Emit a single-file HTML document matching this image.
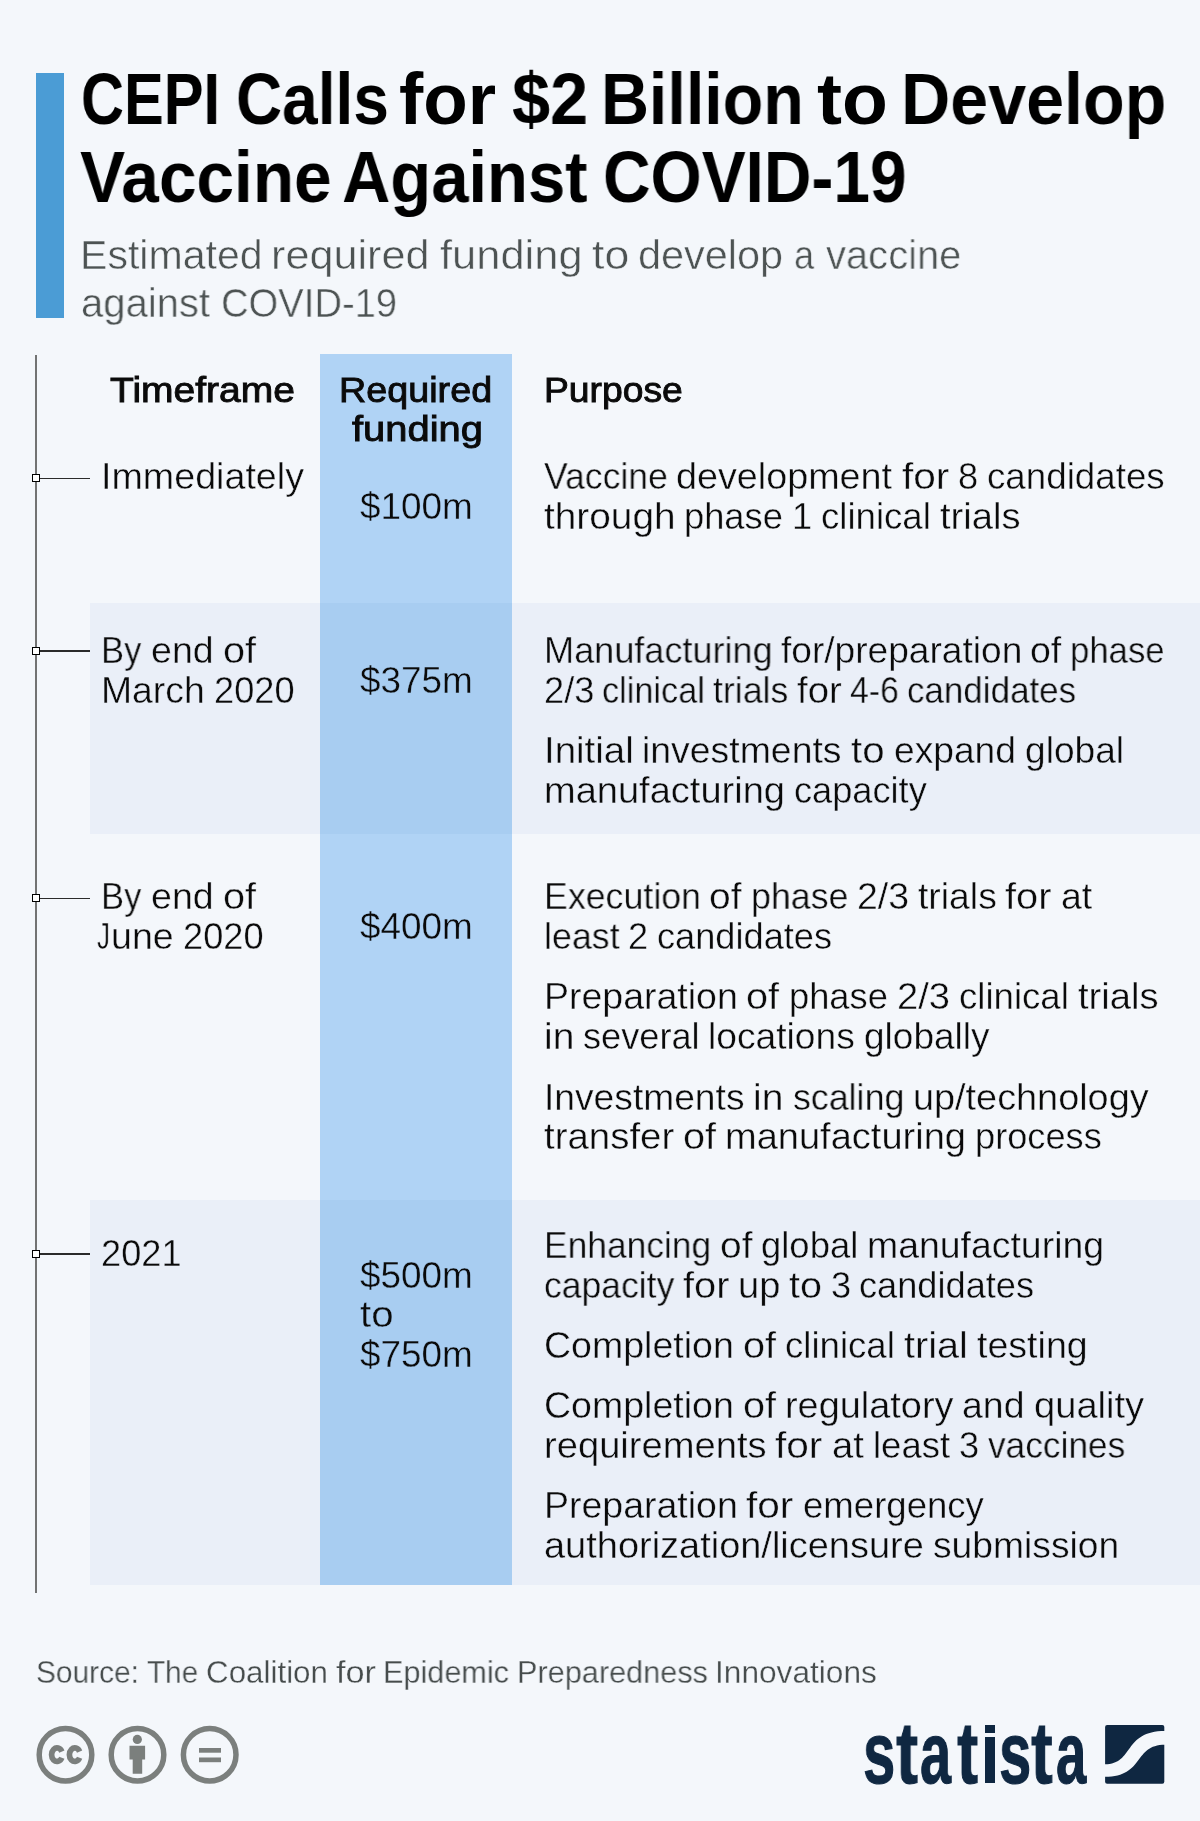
<!DOCTYPE html>
<html lang="en">
<head>
<meta charset="utf-8">
<title>CEPI Calls for $2 Billion to Develop Vaccine Against COVID-19</title>
<style>
html,body{margin:0;padding:0;}
body{width:1200px;height:1821px;background:#f4f7fb;position:relative;overflow:hidden;font-family:"Liberation Sans",sans-serif;}
.abs{position:absolute;}
.t{will-change:transform;position:absolute;white-space:nowrap;transform-origin:0 0;font-family:"Liberation Sans",sans-serif;font-weight:400;}
.t.b{font-weight:700;}
.t.lb{-webkit-text-stroke:1px currentColor;}
.t.sb{-webkit-text-stroke:0.9px currentColor;}
.band{position:absolute;left:90px;width:1110px;background:#eaeff8;}
.col{position:absolute;left:320px;width:191.5px;top:354px;height:1230.7px;background:#b0d3f5;}
.colb{position:absolute;left:320px;width:191.5px;background:#a8cdf1;}
.vline{position:absolute;left:35.1px;top:354.5px;width:2px;height:1238px;background:#727373;}
.hline{position:absolute;left:38px;width:52px;height:1.3px;background:#2b2b2b;}
.mk{position:absolute;left:32px;width:6px;height:6px;border:1px solid #000;background:#fff;}
.bar{position:absolute;left:36px;top:73px;width:28px;height:245px;background:#4b9cd5;}
</style>
</head>
<body>
<div class="bar"></div>
<div class="band" style="top:602.5px;height:231.3px"></div>
<div class="band" style="top:1199.8px;height:384.9px"></div>
<div class="col"></div>
<div class="colb" style="top:602.5px;height:231.3px"></div>
<div class="colb" style="top:1199.8px;height:384.9px"></div>
<div class="vline"></div>
<div class="hline" style="top:477.6px"></div><div class="mk" style="top:474.3px"></div>
<div class="hline" style="top:650.3px"></div><div class="mk" style="top:647.0px"></div>
<div class="hline" style="top:897.7px"></div><div class="mk" style="top:894.4px"></div>
<div class="hline" style="top:1253.3px"></div><div class="mk" style="top:1250.0px"></div>
<div class="t b" style="left:81.28px;top:55.03px;font-size:72.5px;line-height:87.0px;color:#000;transform:scaleX(0.8217)">CEPI</div>
<div class="t b" style="left:236.10px;top:55.03px;font-size:72.5px;line-height:87.0px;color:#000;transform:scaleX(0.8819)">Calls</div>
<div class="t b" style="left:399.49px;top:55.03px;font-size:72.5px;line-height:87.0px;color:#000;transform:scaleX(1.0053)">for</div>
<div class="t b" style="left:511.56px;top:55.03px;font-size:72.5px;line-height:87.0px;color:#000;transform:scaleX(0.9446)">$2</div>
<div class="t b" style="left:600.65px;top:55.03px;font-size:72.5px;line-height:87.0px;color:#000;transform:scaleX(0.9152)">Billion</div>
<div class="t b" style="left:817.22px;top:55.03px;font-size:72.5px;line-height:87.0px;color:#000;transform:scaleX(1.0349)">to</div>
<div class="t b" style="left:901.28px;top:55.03px;font-size:72.5px;line-height:87.0px;color:#000;transform:scaleX(0.9407)">Develop</div>
<div class="t b" style="left:79.53px;top:133.03px;font-size:72.5px;line-height:87.0px;color:#000;transform:scaleX(0.9316)">Vaccine</div>
<div class="t b" style="left:342.38px;top:133.03px;font-size:72.5px;line-height:87.0px;color:#000;transform:scaleX(0.9231)">Against</div>
<div class="t b" style="left:602.78px;top:133.03px;font-size:72.5px;line-height:87.0px;color:#000;transform:scaleX(0.9080)">COVID-19</div>
<div class="t" style="left:80.01px;top:231.02px;font-size:40.6px;line-height:48.72px;color:#4d5353;transform:scaleX(1.0126);-webkit-text-stroke:0.49px #f4f7fb">Estimated</div>
<div class="t" style="left:271.37px;top:231.02px;font-size:40.6px;line-height:48.72px;color:#4d5353;transform:scaleX(1.0641);-webkit-text-stroke:0.49px #f4f7fb">required</div>
<div class="t" style="left:440.16px;top:231.02px;font-size:40.6px;line-height:48.72px;color:#4d5353;transform:scaleX(1.0715);-webkit-text-stroke:0.49px #f4f7fb">funding</div>
<div class="t" style="left:592.15px;top:231.02px;font-size:40.6px;line-height:48.72px;color:#4d5353;transform:scaleX(1.0984);-webkit-text-stroke:0.49px #f4f7fb">to</div>
<div class="t" style="left:638.21px;top:231.02px;font-size:40.6px;line-height:48.72px;color:#4d5353;transform:scaleX(1.0213);-webkit-text-stroke:0.49px #f4f7fb">develop</div>
<div class="t" style="left:794.44px;top:231.02px;font-size:40.6px;line-height:48.72px;color:#4d5353;transform:scaleX(0.8916);-webkit-text-stroke:0.49px #f4f7fb">a</div>
<div class="t" style="left:825.75px;top:231.02px;font-size:40.6px;line-height:48.72px;color:#4d5353;transform:scaleX(0.9838);-webkit-text-stroke:0.49px #f4f7fb">vaccine</div>
<div class="t" style="left:80.57px;top:279.02px;font-size:40.6px;line-height:48.72px;color:#4d5353;transform:scaleX(0.9864);-webkit-text-stroke:0.49px #f4f7fb">against</div>
<div class="t" style="left:220.82px;top:279.02px;font-size:40.6px;line-height:48.72px;color:#4d5353;transform:scaleX(0.9413);-webkit-text-stroke:0.49px #f4f7fb">COVID-19</div>
<div class="t sb" style="left:110.22px;top:370.00px;font-size:34.6px;line-height:41.52px;color:#0a0a0a;transform:scaleX(1.1280)">Timeframe</div>
<div class="t sb" style="left:339.27px;top:370.00px;font-size:34.6px;line-height:41.52px;color:#0a0a0a;transform:scaleX(1.0912)">Required</div>
<div class="t sb" style="left:351.50px;top:409.00px;font-size:34.6px;line-height:41.52px;color:#0a0a0a;transform:scaleX(1.1535)">funding</div>
<div class="t sb" style="left:543.91px;top:370.00px;font-size:34.6px;line-height:41.52px;color:#0a0a0a;transform:scaleX(1.0778)">Purpose</div>
<div class="t" style="left:96.84px;top:915.04px;font-size:36.2px;line-height:43.44px;color:#0a0a0a;transform:scaleX(0.7133);-webkit-text-stroke:0.39px #f4f7fb">J</div>
<div class="t b lb" style="left:863.43px;top:1701.00px;font-size:87px;line-height:104.4px;color:#0f2741;transform:scaleX(0.6690)">s</div>
<div class="t b lb" style="left:895.92px;top:1701.00px;font-size:87px;line-height:104.4px;color:#0f2741;transform:scaleX(0.7643)">t</div>
<div class="t b lb" style="left:920.41px;top:1701.00px;font-size:87px;line-height:104.4px;color:#0f2741;transform:scaleX(0.6442)">a</div>
<div class="t b lb" style="left:957.33px;top:1701.00px;font-size:87px;line-height:104.4px;color:#0f2741;transform:scaleX(0.7321)">t</div>
<div class="t b lb" style="left:998.63px;top:1701.00px;font-size:87px;line-height:104.4px;color:#0f2741;transform:scaleX(0.6690)">s</div>
<div class="t b lb" style="left:1031.13px;top:1701.00px;font-size:87px;line-height:104.4px;color:#0f2741;transform:scaleX(0.7429)">t</div>
<div class="t b lb" style="left:1056.45px;top:1701.00px;font-size:87px;line-height:104.4px;color:#0f2741;transform:scaleX(0.6274)">a</div>
<div class="t" style="left:101.40px;top:455.04px;font-size:36.2px;line-height:43.44px;color:#0a0a0a;transform:scaleX(1.0405);-webkit-text-stroke:0.39px #f4f7fb">Immediately</div>
<div class="t" style="left:101.40px;top:629.04px;font-size:36.2px;line-height:43.44px;color:#0a0a0a;transform:scaleX(0.9543);-webkit-text-stroke:0.39px #eaeff8">By</div>
<div class="t" style="left:150.81px;top:629.04px;font-size:36.2px;line-height:43.44px;color:#0a0a0a;transform:scaleX(1.0375);-webkit-text-stroke:0.39px #eaeff8">end</div>
<div class="t" style="left:222.57px;top:629.04px;font-size:36.2px;line-height:43.44px;color:#0a0a0a;transform:scaleX(1.0947);-webkit-text-stroke:0.39px #eaeff8">of</div>
<div class="t" style="left:101.40px;top:669.04px;font-size:36.2px;line-height:43.44px;color:#0a0a0a;transform:scaleX(1.0308);-webkit-text-stroke:0.39px #eaeff8">March</div>
<div class="t" style="left:214.15px;top:669.04px;font-size:36.2px;line-height:43.44px;color:#0a0a0a;transform:scaleX(0.9956);-webkit-text-stroke:0.39px #eaeff8">2020</div>
<div class="t" style="left:101.40px;top:875.04px;font-size:36.2px;line-height:43.44px;color:#0a0a0a;transform:scaleX(0.9543);-webkit-text-stroke:0.39px #f4f7fb">By</div>
<div class="t" style="left:150.81px;top:875.04px;font-size:36.2px;line-height:43.44px;color:#0a0a0a;transform:scaleX(1.0375);-webkit-text-stroke:0.39px #f4f7fb">end</div>
<div class="t" style="left:222.57px;top:875.04px;font-size:36.2px;line-height:43.44px;color:#0a0a0a;transform:scaleX(1.0947);-webkit-text-stroke:0.39px #f4f7fb">of</div>
<div class="t" style="left:110.76px;top:915.04px;font-size:36.2px;line-height:43.44px;color:#0a0a0a;transform:scaleX(1.0381);-webkit-text-stroke:0.39px #f4f7fb">une</div>
<div class="t" style="left:182.56px;top:915.04px;font-size:36.2px;line-height:43.44px;color:#0a0a0a;transform:scaleX(0.9956);-webkit-text-stroke:0.39px #f4f7fb">2020</div>
<div class="t" style="left:101.40px;top:1232.04px;font-size:36.2px;line-height:43.44px;color:#0a0a0a;transform:scaleX(0.9956);-webkit-text-stroke:0.39px #eaeff8">2021</div>
<div class="t" style="left:360.00px;top:485.04px;font-size:36.2px;line-height:43.44px;color:#0a0a0a;transform:scaleX(1.0191);-webkit-text-stroke:0.39px #b0d3f5">$100m</div>
<div class="t" style="left:360.00px;top:659.04px;font-size:36.2px;line-height:43.44px;color:#0a0a0a;transform:scaleX(1.0191);-webkit-text-stroke:0.39px #a8cdf1">$375m</div>
<div class="t" style="left:360.00px;top:905.04px;font-size:36.2px;line-height:43.44px;color:#0a0a0a;transform:scaleX(1.0191);-webkit-text-stroke:0.39px #b0d3f5">$400m</div>
<div class="t" style="left:360.00px;top:1254.04px;font-size:36.2px;line-height:43.44px;color:#0a0a0a;transform:scaleX(1.0191);-webkit-text-stroke:0.39px #a8cdf1">$500m</div>
<div class="t" style="left:360.00px;top:1293.04px;font-size:36.2px;line-height:43.44px;color:#0a0a0a;transform:scaleX(1.1112);-webkit-text-stroke:0.39px #a8cdf1">to</div>
<div class="t" style="left:360.00px;top:1333.04px;font-size:36.2px;line-height:43.44px;color:#0a0a0a;transform:scaleX(1.0191);-webkit-text-stroke:0.39px #a8cdf1">$750m</div>
<div class="t" style="left:543.60px;top:455.04px;font-size:36.2px;line-height:43.44px;color:#0a0a0a;transform:scaleX(0.9818);-webkit-text-stroke:0.39px #f4f7fb">Vaccine</div>
<div class="t" style="left:676.48px;top:455.04px;font-size:36.2px;line-height:43.44px;color:#0a0a0a;transform:scaleX(1.0425);-webkit-text-stroke:0.39px #f4f7fb">development</div>
<div class="t" style="left:901.61px;top:455.04px;font-size:36.2px;line-height:43.44px;color:#0a0a0a;transform:scaleX(1.1212);-webkit-text-stroke:0.39px #f4f7fb">for</div>
<div class="t" style="left:958.07px;top:455.04px;font-size:36.2px;line-height:43.44px;color:#0a0a0a;transform:scaleX(0.9950);-webkit-text-stroke:0.39px #f4f7fb">8</div>
<div class="t" style="left:987.22px;top:455.04px;font-size:36.2px;line-height:43.44px;color:#0a0a0a;transform:scaleX(1.0155);-webkit-text-stroke:0.39px #f4f7fb">candidates</div>
<div class="t" style="left:543.60px;top:495.04px;font-size:36.2px;line-height:43.44px;color:#0a0a0a;transform:scaleX(1.0722);-webkit-text-stroke:0.39px #f4f7fb">through</div>
<div class="t" style="left:684.30px;top:495.04px;font-size:36.2px;line-height:43.44px;color:#0a0a0a;transform:scaleX(1.0026);-webkit-text-stroke:0.39px #f4f7fb">phase</div>
<div class="t" style="left:792.27px;top:495.04px;font-size:36.2px;line-height:43.44px;color:#0a0a0a;transform:scaleX(0.9950);-webkit-text-stroke:0.39px #f4f7fb">1</div>
<div class="t" style="left:821.42px;top:495.04px;font-size:36.2px;line-height:43.44px;color:#0a0a0a;transform:scaleX(1.0113);-webkit-text-stroke:0.39px #f4f7fb">clinical</div>
<div class="t" style="left:940.36px;top:495.04px;font-size:36.2px;line-height:43.44px;color:#0a0a0a;transform:scaleX(1.0552);-webkit-text-stroke:0.39px #f4f7fb">trials</div>
<div class="t" style="left:543.60px;top:629.04px;font-size:36.2px;line-height:43.44px;color:#0a0a0a;transform:scaleX(0.9972);-webkit-text-stroke:0.39px #eaeff8">Manufacturing</div>
<div class="t" style="left:780.52px;top:629.04px;font-size:36.2px;line-height:43.44px;color:#0a0a0a;transform:scaleX(1.0253);-webkit-text-stroke:0.39px #eaeff8">for/preparation</div>
<div class="t" style="left:1030.07px;top:629.04px;font-size:36.2px;line-height:43.44px;color:#0a0a0a;transform:scaleX(1.0371);-webkit-text-stroke:0.39px #eaeff8">of</div>
<div class="t" style="left:1069.61px;top:629.04px;font-size:36.2px;line-height:43.44px;color:#0a0a0a;transform:scaleX(0.9585);-webkit-text-stroke:0.39px #eaeff8">phase</div>
<div class="t" style="left:543.60px;top:669.04px;font-size:36.2px;line-height:43.44px;color:#0a0a0a;transform:scaleX(1.0006);-webkit-text-stroke:0.39px #eaeff8">2/3</div>
<div class="t" style="left:602.18px;top:669.04px;font-size:36.2px;line-height:43.44px;color:#0a0a0a;transform:scaleX(0.9472);-webkit-text-stroke:0.39px #eaeff8">clinical</div>
<div class="t" style="left:713.29px;top:669.04px;font-size:36.2px;line-height:43.44px;color:#0a0a0a;transform:scaleX(0.9869);-webkit-text-stroke:0.39px #eaeff8">trials</div>
<div class="t" style="left:796.93px;top:669.04px;font-size:36.2px;line-height:43.44px;color:#0a0a0a;transform:scaleX(1.0594);-webkit-text-stroke:0.39px #eaeff8">for</div>
<div class="t" style="left:849.91px;top:669.04px;font-size:36.2px;line-height:43.44px;color:#0a0a0a;transform:scaleX(0.9319);-webkit-text-stroke:0.39px #eaeff8">4-6</div>
<div class="t" style="left:906.90px;top:669.04px;font-size:36.2px;line-height:43.44px;color:#0a0a0a;transform:scaleX(0.9658);-webkit-text-stroke:0.39px #eaeff8">candidates</div>
<div class="t" style="left:543.60px;top:729.04px;font-size:36.2px;line-height:43.44px;color:#0a0a0a;transform:scaleX(1.0623);-webkit-text-stroke:0.39px #eaeff8">Initial</div>
<div class="t" style="left:642.45px;top:729.04px;font-size:36.2px;line-height:43.44px;color:#0a0a0a;transform:scaleX(1.0336);-webkit-text-stroke:0.39px #eaeff8">investments</div>
<div class="t" style="left:851.13px;top:729.04px;font-size:36.2px;line-height:43.44px;color:#0a0a0a;transform:scaleX(1.1112);-webkit-text-stroke:0.39px #eaeff8">to</div>
<div class="t" style="left:893.77px;top:729.04px;font-size:36.2px;line-height:43.44px;color:#0a0a0a;transform:scaleX(1.0274);-webkit-text-stroke:0.39px #eaeff8">expand</div>
<div class="t" style="left:1024.87px;top:729.04px;font-size:36.2px;line-height:43.44px;color:#0a0a0a;transform:scaleX(1.0257);-webkit-text-stroke:0.39px #eaeff8">global</div>
<div class="t" style="left:543.60px;top:769.04px;font-size:36.2px;line-height:43.44px;color:#0a0a0a;transform:scaleX(1.0507);-webkit-text-stroke:0.39px #eaeff8">manufacturing</div>
<div class="t" style="left:793.66px;top:769.04px;font-size:36.2px;line-height:43.44px;color:#0a0a0a;transform:scaleX(0.9993);-webkit-text-stroke:0.39px #eaeff8">capacity</div>
<div class="t" style="left:543.60px;top:875.04px;font-size:36.2px;line-height:43.44px;color:#0a0a0a;transform:scaleX(0.9875);-webkit-text-stroke:0.39px #f4f7fb">Execution</div>
<div class="t" style="left:709.35px;top:875.04px;font-size:36.2px;line-height:43.44px;color:#0a0a0a;transform:scaleX(1.0749);-webkit-text-stroke:0.39px #f4f7fb">of</div>
<div class="t" style="left:750.60px;top:875.04px;font-size:36.2px;line-height:43.44px;color:#0a0a0a;transform:scaleX(0.9874);-webkit-text-stroke:0.39px #f4f7fb">phase</div>
<div class="t" style="left:856.77px;top:875.04px;font-size:36.2px;line-height:43.44px;color:#0a0a0a;transform:scaleX(1.0346);-webkit-text-stroke:0.39px #f4f7fb">2/3</div>
<div class="t" style="left:917.63px;top:875.04px;font-size:36.2px;line-height:43.44px;color:#0a0a0a;transform:scaleX(1.0317);-webkit-text-stroke:0.39px #f4f7fb">trials</div>
<div class="t" style="left:1005.26px;top:875.04px;font-size:36.2px;line-height:43.44px;color:#0a0a0a;transform:scaleX(1.0999);-webkit-text-stroke:0.39px #f4f7fb">for</div>
<div class="t" style="left:1060.52px;top:875.04px;font-size:36.2px;line-height:43.44px;color:#0a0a0a;transform:scaleX(1.0358);-webkit-text-stroke:0.39px #f4f7fb">at</div>
<div class="t" style="left:543.60px;top:915.04px;font-size:36.2px;line-height:43.44px;color:#0a0a0a;transform:scaleX(0.9891);-webkit-text-stroke:0.39px #f4f7fb">least</div>
<div class="t" style="left:628.02px;top:915.04px;font-size:36.2px;line-height:43.44px;color:#0a0a0a;transform:scaleX(0.9801);-webkit-text-stroke:0.39px #f4f7fb">2</div>
<div class="t" style="left:656.57px;top:915.04px;font-size:36.2px;line-height:43.44px;color:#0a0a0a;transform:scaleX(0.9984);-webkit-text-stroke:0.39px #f4f7fb">candidates</div>
<div class="t" style="left:543.60px;top:975.04px;font-size:36.2px;line-height:43.44px;color:#0a0a0a;transform:scaleX(1.0357);-webkit-text-stroke:0.39px #f4f7fb">Preparation</div>
<div class="t" style="left:746.47px;top:975.04px;font-size:36.2px;line-height:43.44px;color:#0a0a0a;transform:scaleX(1.0947);-webkit-text-stroke:0.39px #f4f7fb">of</div>
<div class="t" style="left:788.62px;top:975.04px;font-size:36.2px;line-height:43.44px;color:#0a0a0a;transform:scaleX(1.0026);-webkit-text-stroke:0.39px #f4f7fb">phase</div>
<div class="t" style="left:896.60px;top:975.04px;font-size:36.2px;line-height:43.44px;color:#0a0a0a;transform:scaleX(1.0525);-webkit-text-stroke:0.39px #f4f7fb">2/3</div>
<div class="t" style="left:958.65px;top:975.04px;font-size:36.2px;line-height:43.44px;color:#0a0a0a;transform:scaleX(1.0113);-webkit-text-stroke:0.39px #f4f7fb">clinical</div>
<div class="t" style="left:1077.60px;top:975.04px;font-size:36.2px;line-height:43.44px;color:#0a0a0a;transform:scaleX(1.0552);-webkit-text-stroke:0.39px #f4f7fb">trials</div>
<div class="t" style="left:543.60px;top:1015.04px;font-size:36.2px;line-height:43.44px;color:#0a0a0a;transform:scaleX(1.0783);-webkit-text-stroke:0.39px #f4f7fb">in</div>
<div class="t" style="left:583.08px;top:1015.04px;font-size:36.2px;line-height:43.44px;color:#0a0a0a;transform:scaleX(0.9967);-webkit-text-stroke:0.39px #f4f7fb">several</div>
<div class="t" style="left:708.46px;top:1015.04px;font-size:36.2px;line-height:43.44px;color:#0a0a0a;transform:scaleX(1.0282);-webkit-text-stroke:0.39px #f4f7fb">locations</div>
<div class="t" style="left:864.42px;top:1015.04px;font-size:36.2px;line-height:43.44px;color:#0a0a0a;transform:scaleX(1.0229);-webkit-text-stroke:0.39px #f4f7fb">globally</div>
<div class="t" style="left:543.60px;top:1076.04px;font-size:36.2px;line-height:43.44px;color:#0a0a0a;transform:scaleX(1.0276);-webkit-text-stroke:0.39px #f4f7fb">Investments</div>
<div class="t" style="left:753.18px;top:1076.04px;font-size:36.2px;line-height:43.44px;color:#0a0a0a;transform:scaleX(1.0783);-webkit-text-stroke:0.39px #f4f7fb">in</div>
<div class="t" style="left:792.66px;top:1076.04px;font-size:36.2px;line-height:43.44px;color:#0a0a0a;transform:scaleX(0.9884);-webkit-text-stroke:0.39px #f4f7fb">scaling</div>
<div class="t" style="left:913.11px;top:1076.04px;font-size:36.2px;line-height:43.44px;color:#0a0a0a;transform:scaleX(1.0456);-webkit-text-stroke:0.39px #f4f7fb">up/technology</div>
<div class="t" style="left:543.60px;top:1115.04px;font-size:36.2px;line-height:43.44px;color:#0a0a0a;transform:scaleX(1.0617);-webkit-text-stroke:0.39px #f4f7fb">transfer</div>
<div class="t" style="left:682.96px;top:1115.04px;font-size:36.2px;line-height:43.44px;color:#0a0a0a;transform:scaleX(1.0947);-webkit-text-stroke:0.39px #f4f7fb">of</div>
<div class="t" style="left:725.11px;top:1115.04px;font-size:36.2px;line-height:43.44px;color:#0a0a0a;transform:scaleX(1.0507);-webkit-text-stroke:0.39px #f4f7fb">manufacturing</div>
<div class="t" style="left:975.17px;top:1115.04px;font-size:36.2px;line-height:43.44px;color:#0a0a0a;transform:scaleX(1.0002);-webkit-text-stroke:0.39px #f4f7fb">process</div>
<div class="t" style="left:543.60px;top:1224.04px;font-size:36.2px;line-height:43.44px;color:#0a0a0a;transform:scaleX(0.9770);-webkit-text-stroke:0.39px #eaeff8">Enhancing</div>
<div class="t" style="left:719.50px;top:1224.04px;font-size:36.2px;line-height:43.44px;color:#0a0a0a;transform:scaleX(1.0749);-webkit-text-stroke:0.39px #eaeff8">of</div>
<div class="t" style="left:760.75px;top:1224.04px;font-size:36.2px;line-height:43.44px;color:#0a0a0a;transform:scaleX(1.0070);-webkit-text-stroke:0.39px #eaeff8">global</div>
<div class="t" style="left:866.83px;top:1224.04px;font-size:36.2px;line-height:43.44px;color:#0a0a0a;transform:scaleX(1.0337);-webkit-text-stroke:0.39px #eaeff8">manufacturing</div>
<div class="t" style="left:543.60px;top:1264.04px;font-size:36.2px;line-height:43.44px;color:#0a0a0a;transform:scaleX(0.9812);-webkit-text-stroke:0.39px #eaeff8">capacity</div>
<div class="t" style="left:682.67px;top:1264.04px;font-size:36.2px;line-height:43.44px;color:#0a0a0a;transform:scaleX(1.0999);-webkit-text-stroke:0.39px #eaeff8">for</div>
<div class="t" style="left:737.93px;top:1264.04px;font-size:36.2px;line-height:43.44px;color:#0a0a0a;transform:scaleX(1.0528);-webkit-text-stroke:0.39px #eaeff8">up</div>
<div class="t" style="left:789.13px;top:1264.04px;font-size:36.2px;line-height:43.44px;color:#0a0a0a;transform:scaleX(1.0913);-webkit-text-stroke:0.39px #eaeff8">to</div>
<div class="t" style="left:830.88px;top:1264.04px;font-size:36.2px;line-height:43.44px;color:#0a0a0a;transform:scaleX(0.9801);-webkit-text-stroke:0.39px #eaeff8">3</div>
<div class="t" style="left:859.42px;top:1264.04px;font-size:36.2px;line-height:43.44px;color:#0a0a0a;transform:scaleX(0.9984);-webkit-text-stroke:0.39px #eaeff8">candidates</div>
<div class="t" style="left:543.60px;top:1324.04px;font-size:36.2px;line-height:43.44px;color:#0a0a0a;transform:scaleX(1.0370);-webkit-text-stroke:0.39px #eaeff8">Completion</div>
<div class="t" style="left:742.52px;top:1324.04px;font-size:36.2px;line-height:43.44px;color:#0a0a0a;transform:scaleX(1.0947);-webkit-text-stroke:0.39px #eaeff8">of</div>
<div class="t" style="left:784.67px;top:1324.04px;font-size:36.2px;line-height:43.44px;color:#0a0a0a;transform:scaleX(1.0113);-webkit-text-stroke:0.39px #eaeff8">clinical</div>
<div class="t" style="left:903.62px;top:1324.04px;font-size:36.2px;line-height:43.44px;color:#0a0a0a;transform:scaleX(1.0959);-webkit-text-stroke:0.39px #eaeff8">trial</div>
<div class="t" style="left:976.62px;top:1324.04px;font-size:36.2px;line-height:43.44px;color:#0a0a0a;transform:scaleX(1.0383);-webkit-text-stroke:0.39px #eaeff8">testing</div>
<div class="t" style="left:543.60px;top:1384.04px;font-size:36.2px;line-height:43.44px;color:#0a0a0a;transform:scaleX(1.0370);-webkit-text-stroke:0.39px #eaeff8">Completion</div>
<div class="t" style="left:742.52px;top:1384.04px;font-size:36.2px;line-height:43.44px;color:#0a0a0a;transform:scaleX(1.0947);-webkit-text-stroke:0.39px #eaeff8">of</div>
<div class="t" style="left:784.67px;top:1384.04px;font-size:36.2px;line-height:43.44px;color:#0a0a0a;transform:scaleX(1.0470);-webkit-text-stroke:0.39px #eaeff8">regulatory</div>
<div class="t" style="left:962.27px;top:1384.04px;font-size:36.2px;line-height:43.44px;color:#0a0a0a;transform:scaleX(1.0347);-webkit-text-stroke:0.39px #eaeff8">and</div>
<div class="t" style="left:1033.86px;top:1384.04px;font-size:36.2px;line-height:43.44px;color:#0a0a0a;transform:scaleX(1.0533);-webkit-text-stroke:0.39px #eaeff8">quality</div>
<div class="t" style="left:543.60px;top:1424.04px;font-size:36.2px;line-height:43.44px;color:#0a0a0a;transform:scaleX(1.0543);-webkit-text-stroke:0.39px #eaeff8">requirements</div>
<div class="t" style="left:775.38px;top:1424.04px;font-size:36.2px;line-height:43.44px;color:#0a0a0a;transform:scaleX(1.1212);-webkit-text-stroke:0.39px #eaeff8">for</div>
<div class="t" style="left:831.84px;top:1424.04px;font-size:36.2px;line-height:43.44px;color:#0a0a0a;transform:scaleX(1.0556);-webkit-text-stroke:0.39px #eaeff8">at</div>
<div class="t" style="left:872.81px;top:1424.04px;font-size:36.2px;line-height:43.44px;color:#0a0a0a;transform:scaleX(1.0087);-webkit-text-stroke:0.39px #eaeff8">least</div>
<div class="t" style="left:959.03px;top:1424.04px;font-size:36.2px;line-height:43.44px;color:#0a0a0a;transform:scaleX(0.9950);-webkit-text-stroke:0.39px #eaeff8">3</div>
<div class="t" style="left:988.18px;top:1424.04px;font-size:36.2px;line-height:43.44px;color:#0a0a0a;transform:scaleX(0.9744);-webkit-text-stroke:0.39px #eaeff8">vaccines</div>
<div class="t" style="left:543.60px;top:1484.04px;font-size:36.2px;line-height:43.44px;color:#0a0a0a;transform:scaleX(1.0357);-webkit-text-stroke:0.39px #eaeff8">Preparation</div>
<div class="t" style="left:746.47px;top:1484.04px;font-size:36.2px;line-height:43.44px;color:#0a0a0a;transform:scaleX(1.1212);-webkit-text-stroke:0.39px #eaeff8">for</div>
<div class="t" style="left:802.93px;top:1484.04px;font-size:36.2px;line-height:43.44px;color:#0a0a0a;transform:scaleX(1.0105);-webkit-text-stroke:0.39px #eaeff8">emergency</div>
<div class="t" style="left:543.60px;top:1524.04px;font-size:36.2px;line-height:43.44px;color:#0a0a0a;transform:scaleX(1.0489);-webkit-text-stroke:0.39px #eaeff8">authorization/licensure</div>
<div class="t" style="left:932.50px;top:1524.04px;font-size:36.2px;line-height:43.44px;color:#0a0a0a;transform:scaleX(1.0285);-webkit-text-stroke:0.39px #eaeff8">submission</div>
<div class="t" style="left:36.40px;top:1655.00px;font-size:30.8px;line-height:36.96px;color:#464c4c;transform:scaleX(0.9699);-webkit-text-stroke:0.28px #f4f7fb">Source:</div>
<div class="t" style="left:147.04px;top:1655.00px;font-size:30.8px;line-height:36.96px;color:#464c4c;transform:scaleX(0.9637);-webkit-text-stroke:0.28px #f4f7fb">The</div>
<div class="t" style="left:205.88px;top:1655.00px;font-size:30.8px;line-height:36.96px;color:#464c4c;transform:scaleX(1.0177);-webkit-text-stroke:0.28px #f4f7fb">Coalition</div>
<div class="t" style="left:335.54px;top:1655.00px;font-size:30.8px;line-height:36.96px;color:#464c4c;transform:scaleX(1.1123);-webkit-text-stroke:0.28px #f4f7fb">for</div>
<div class="t" style="left:383.22px;top:1655.00px;font-size:30.8px;line-height:36.96px;color:#464c4c;transform:scaleX(0.9943);-webkit-text-stroke:0.28px #f4f7fb">Epidemic</div>
<div class="t" style="left:516.85px;top:1655.00px;font-size:30.8px;line-height:36.96px;color:#464c4c;transform:scaleX(0.9959);-webkit-text-stroke:0.28px #f4f7fb">Preparedness</div>
<div class="t" style="left:715.49px;top:1655.00px;font-size:30.8px;line-height:36.96px;color:#464c4c;transform:scaleX(1.0275);-webkit-text-stroke:0.28px #f4f7fb">Innovations</div><svg class="abs" style="left:30px;top:1715px" width="220" height="80" viewBox="30 1715 220 80">
<g fill="none" stroke="#7b7f7d" stroke-width="5.5">
<circle cx="65.5" cy="1754.7" r="26.3"/>
<circle cx="137.5" cy="1754.7" r="26.3"/>
<circle cx="209.7" cy="1754.7" r="26.3"/>
<path stroke-width="5.7" d="M61.81 1751.64 A5.4 6.75 0 1 0 61.81 1757.76"/>
<path stroke-width="5.7" d="M79.61 1751.64 A5.4 6.75 0 1 0 79.61 1757.76"/>
</g>
<g fill="#7b7f7d">
<circle cx="137.3" cy="1739.4" r="4.6"/>
<path d="M129.5 1745.8 h15.6 v13.7 h-2.9 v14.2 h-9.5 v-14.2 h-3.2z"/>
<rect x="199" y="1748" width="22" height="4.7"/>
<rect x="199" y="1757.5" width="22" height="4.7"/>
</g>
</svg>
<svg class="abs" style="left:1105px;top:1725px" width="60" height="60" viewBox="0 0 60 60">
<rect x="0.1" y="0.1" width="59.2" height="58.7" rx="2" fill="#0f2741"/>
<path d="M0 39.2 C29 39.2 18 5.9 60 5.9 L60 19.7 C28 19.7 40 51.7 0 51.7 Z" fill="#f4f7fb"/>
</svg>
<div class="abs" style="left:985.1px;top:1725.2px;width:9.9px;height:8px;background:#0f2741"></div>
<div class="abs" style="left:985.1px;top:1737px;width:9.9px;height:46px;background:#0f2741"></div>
</body></html>
